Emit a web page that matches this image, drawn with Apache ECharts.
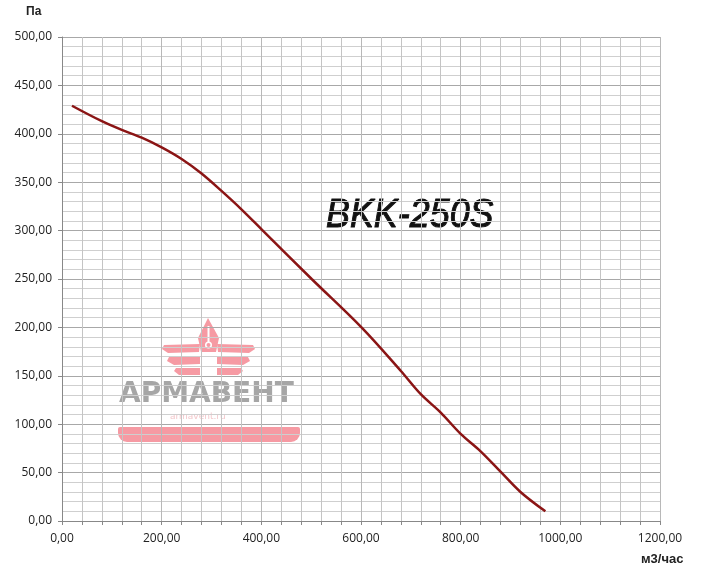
<!DOCTYPE html>
<html>
<head>
<meta charset="utf-8">
<script src="https://cdn.jsdelivr.net/npm/echarts@6/dist/echarts.min.js"></script>
<style>
html,body{margin:0;padding:0;background:#fff;}
#chart{width:702px;height:569px;}
</style>
</head>
<body>
<div id="chart"></div>
<script>
// Data
const flowValues = [20, 80, 120, 160, 200, 240, 280, 320, 360, 403, 501, 601, 680, 720, 760, 800, 840, 880, 920, 970];
const pressureValues = [429, 413, 404, 396, 386, 374, 359, 341, 322, 300, 250, 200, 155, 131, 112, 90, 72, 51, 30, 10];
const modelName = 'BKK-250S';
const yAxisName = 'Па';
const xAxisName = 'м3/час';
const brandName = 'АРМАВЕНТ';
const brandSite = 'armavent.ru';

const seriesData = flowValues.map((x, i) => [x, pressureValues[i]]);
const fmt = v => v.toFixed(2).replace('.', ',');

const chart = echarts.init(document.getElementById('chart'));
const pink = '#f69aa3';
chart.setOption({
  animation: false,
  backgroundColor: '#fff',
  grid: {left: 62, right: 42, top: 37, bottom: 48},
  xAxis: {
    type: 'value', min: 0, max: 1200, interval: 200,
    axisLine: {show: true, lineStyle: {color: '#888', width: 1}},
    axisTick: {show: true, length: 4, lineStyle: {color: '#888'}},
    minorTick: {show: true, splitNumber: 5, length: 4, lineStyle: {color: '#888'}},
    axisLabel: {formatter: fmt, color: '#222', fontFamily: 'Open Sans', fontSize: 12, margin: 12},
    splitLine: {show: true, lineStyle: {color: '#b8b8b8', width: 1}},
    minorSplitLine: {show: true, lineStyle: {color: '#c4c4c4', width: 1}}
  },
  yAxis: {
    type: 'value', min: 0, max: 500, interval: 50,
    axisLine: {show: true, lineStyle: {color: '#888', width: 1}},
    axisTick: {show: true, length: 4, lineStyle: {color: '#888'}},
    axisLabel: {formatter: fmt, color: '#222', fontFamily: 'Open Sans', fontSize: 12, margin: 10},
    splitLine: {show: true, lineStyle: {color: '#a8a8a8', width: 1}},
    minorSplitLine: {show: true, lineStyle: {color: '#cfcfcf', width: 1}},
    minorTick: {show: false, splitNumber: 5}
  },
  graphic: [
    {type: 'text', left: 26, top: 6, style: {text: yAxisName, font: 'bold 12px "Liberation Sans"', fill: '#222'}},
    {type: 'text', left: 641, top: 553, style: {text: xAxisName, font: 'bold 13px "Liberation Sans"', fill: '#222'}},
    {type: 'text', x: 326, y: 195, scaleX: 0.875, style: {x: 0, y: 0, text: modelName, font: 'italic 41px "Liberation Sans"', fill: '#111', stroke: '#111', lineWidth: 1, verticalAlign: 'top', align: 'left'}},
    // watermark logo
    {type: 'polygon', shape: {points: [[208,318],[198,338],[201,352],[216,352],[219,338]]}, style: {fill: pink}},
    {type: 'line', shape: {x1: 208.5, y1: 326, x2: 208.5, y2: 343}, style: {stroke: '#fff', lineWidth: 2}},
    {type: 'circle', shape: {cx: 208.5, cy: 345, r: 3.5}, style: {fill: '#fff'}},
    {type: 'circle', shape: {cx: 208.5, cy: 345, r: 2}, style: {fill: pink}},
    {type: 'polygon', shape: {points: [[164,345],[200,344],[199,352],[168,353],[162,349]]}, style: {fill: pink}},
    {type: 'polygon', shape: {points: [[169,357],[200,356],[200,364],[174,365],[167,361]]}, style: {fill: pink}},
    {type: 'polygon', shape: {points: [[176,368],[200,368],[200,375],[179,375],[174,371]]}, style: {fill: pink}},
    {type: 'polygon', shape: {points: [[253,345],[217,344],[218,352],[249,353],[255,349]]}, style: {fill: pink}},
    {type: 'polygon', shape: {points: [[248,357],[217,356],[217,364],[243,365],[250,361]]}, style: {fill: pink}},
    {type: 'polygon', shape: {points: [[241,368],[217,368],[217,375],[238,375],[243,371]]}, style: {fill: pink}},
    {type: 'text', left: 119, top: 381, style: {text: brandName, font: 'bold 28px "DejaVu Sans"', fill: '#a6a6a6'}},
    {type: 'text', left: 170, top: 412, style: {text: brandSite, font: '9px "DejaVu Sans"', fill: '#f3c7cb'}},
    {type: 'rect', shape: {x: 118, y: 427, width: 182, height: 15, r: [2, 2, 9, 9]}, style: {fill: pink}}
  ],
  series: [{
    type: 'line',
    data: seriesData,
    smooth: 0.35,
    symbol: 'none',
    lineStyle: {color: '#8b1515', width: 2.5},
    z: 5
  }]
});
</script>
</body>
</html>
